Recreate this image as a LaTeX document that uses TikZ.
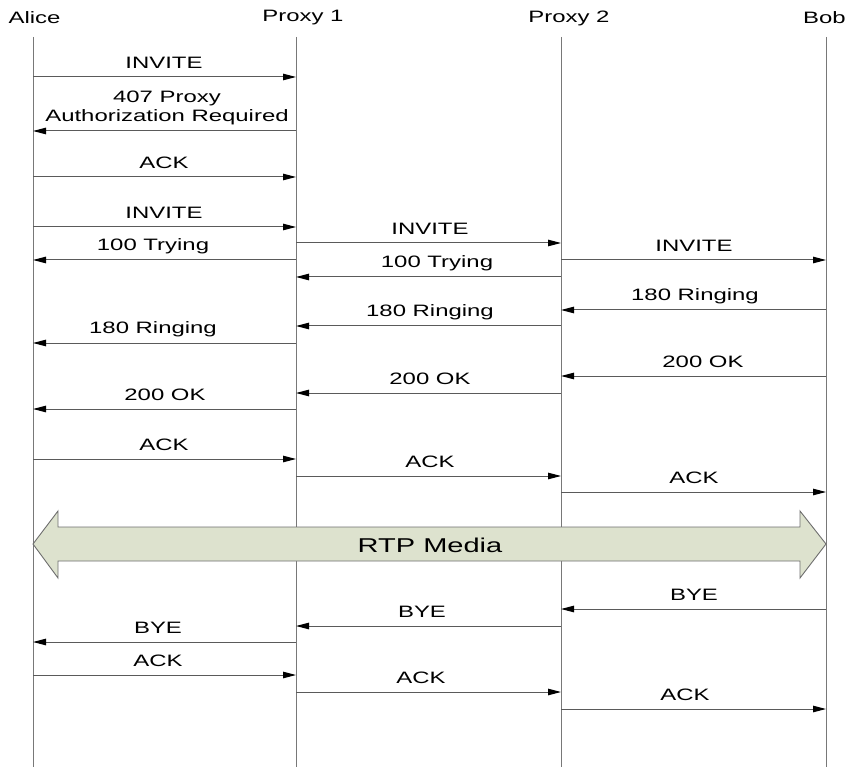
\documentclass[tikz,border=0pt]{standalone}
\usepackage{fontspec}
\setmainfont{Liberation Sans}
\usepackage{graphicx}
\usetikzlibrary{arrows.meta}
\definecolor{lifegray}{RGB}{120,120,120}
\definecolor{msgcol}{RGB}{90,90,90}
\definecolor{mediafill}{RGB}{221,226,206}
\definecolor{mediaedge}{RGB}{110,110,110}
\newcommand{\wt}[1]{\scalebox{1.45}[1]{#1}}
\newcommand{\msg}[6]{%
  \coordinate (#1s) at (#2,#4);
  \coordinate (#1e) at (#3,#4);
  \draw[msgline] (#1s) -- (#1e);
  \node[lbl] (#1l) at (#5,#4-14) {\wt{#6}};
}
\begin{document}
\begin{tikzpicture}[x=1pt,y=-1pt,
  lbl/.style={font=\fontsize{16.5}{19}\selectfont, inner sep=0pt, text=black},
  head/.style={font=\fontsize{16.5}{19}\selectfont, inner sep=0pt, text=black},
  lifeline/.style={draw=lifegray, line width=1pt},
  msgline/.style={draw=msgcol, line width=1pt, -{Triangle[length=13pt,width=6.5pt,color=black,fill=black]}},
  media/.style={draw=mediaedge, line width=0.9pt, fill=mediafill}]
\useasboundingbox (0,0) rectangle (846,767);
% headers
\node[head] (hA) at (34.5,18) {\wt{Alice}};
\node[head] (hP1) at (303,18) {\wt{Proxy 1}};
\node[head] (hP2) at (569,18) {\wt{Proxy 2}};
\node[head] (hB) at (824.5,18) {\wt{Bob}};
% lifelines
\coordinate (At) at (33,37); \coordinate (Ab) at (33,767);
\coordinate (P1t) at (296,37); \coordinate (P1b) at (296,767);
\coordinate (P2t) at (561,37); \coordinate (P2b) at (561,767);
\coordinate (Bt) at (826,37); \coordinate (Bb) at (826,767);
\draw[lifeline] (At) -- (Ab);
\draw[lifeline] (P1t) -- (P1b);
\draw[lifeline] (P2t) -- (P2b);
\draw[lifeline] (Bt) -- (Bb);
% messages
\msg{m1}{33}{296}{77}{164}{INVITE}
\coordinate (m2s) at (296,131); \coordinate (m2e) at (33,131);
\draw[msgline] (m2s) -- (m2e);
\node[lbl, align=center] (m2l) at (167,107.5) {\wt{407 Proxy}\\\wt{Authorization Required}};
\msg{m3}{33}{296}{177}{164}{ACK}
\msg{m4}{33}{296}{227}{164}{INVITE}
\msg{m5}{296}{561}{243}{430}{INVITE}
\msg{m6}{296}{33}{260}{153}{100 Trying}
\msg{m7}{561}{826}{260}{694}{INVITE}
\msg{m8}{561}{296}{277}{437}{100 Trying}
\msg{m9}{826}{561}{310}{695}{180 Ringing}
\msg{m10}{561}{296}{326}{430}{180 Ringing}
\msg{m11}{296}{33}{343}{153}{180 Ringing}
\msg{m12}{826}{561}{376}{703}{200 OK}
\msg{m13}{561}{296}{393}{430}{200 OK}
\msg{m14}{296}{33}{409}{165}{200 OK}
\msg{m15}{33}{296}{459}{164}{ACK}
\msg{m16}{296}{561}{476}{430}{ACK}
\msg{m17}{561}{826}{492}{694}{ACK}
% RTP media
\coordinate (rL) at (33,544); \coordinate (rR) at (826,544);
\draw[media] (rL) -- (58,511) -- (58,527) -- (800,527) -- (800,511) -- (rR)
  -- (800,578) -- (800,561) -- (58,561) -- (58,578) -- cycle;
\node[font=\fontsize{20}{24}\selectfont, inner sep=0pt] (rtp) at (430,545) {\wt{RTP Media}};
\msg{m18}{826}{561}{609}{694}{BYE}
\msg{m19}{561}{296}{626}{422}{BYE}
\msg{m20}{296}{33}{642}{158}{BYE}
\msg{m21}{33}{296}{675}{158}{ACK}
\msg{m22}{296}{561}{692}{421}{ACK}
\msg{m23}{561}{826}{709}{685}{ACK}
\end{tikzpicture}
\end{document}
